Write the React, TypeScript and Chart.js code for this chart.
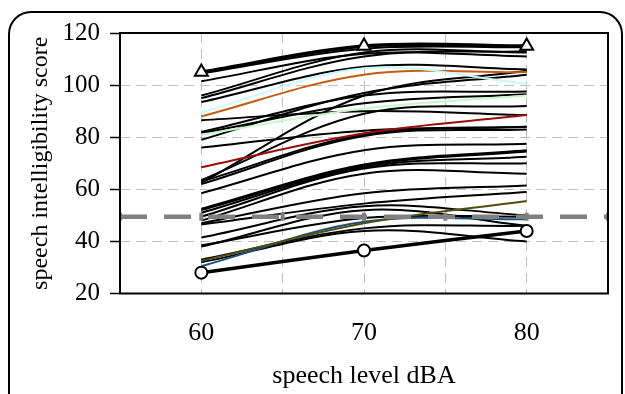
import React, { useEffect, useRef } from 'react';
import { Chart, registerables } from 'chart.js';

Chart.register(...registerables);

// speech levels (dBA) at which each listener was measured
const speechLevels = [60, 70, 80];
const xTickLabels = [60, 70, 80];
const yTickValues = [20, 40, 60, 80, 100, 120];

// reference criterion line
const thresholdLevels = [55, 60, 65, 70, 75, 80, 85];
const thresholdScore = 49.5;

// highlighted listeners
const bestListener = [105, 115, 115];
const worstListener = [28, 36.5, 44];

// coloured listeners
const cyanListener = [89.5, 106.5, 100.5];
const orangeListener = [88, 104, 105];
const greenListener = [81, 91, 96];
const redListener = [68.5, 81.5, 88.5];
const oliveListener = [32.5, 47, 55.5];
const blueListener = [30.5, 47.5, 48.5];

// remaining listeners (black)
const otherListeners = [
  [104.5, 114, 114.5],
  [101.5, 112, 111],
  [96, 112.5, 112.5],
  [95, 111, 113],
  [93.5, 107, 106],
  [86.5, 90, 88.5],
  [82, 96, 97.5],
  [81.5, 93, 96.5],
  [79, 97, 104],
  [76, 82.5, 84],
  [63.5, 89, 92],
  [63, 81, 84],
  [62.5, 96, 105.5],
  [62, 80.5, 83],
  [58.5, 75, 77.5],
  [52.5, 69.5, 75],
  [52, 69, 74.5],
  [51, 68.5, 72.5],
  [49.5, 68, 70],
  [48, 66, 66],
  [47, 58.5, 61.5],
  [46.5, 54.5, 59],
  [41.5, 53.5, 50],
  [38.5, 49, 49.5],
  [38, 52, 46],
  [33, 45, 46],
  [32, 44, 40],
];

const FONT = "'Liberation Serif', 'Times New Roman', serif";

const toPoints = (ys: number[]) => ys.map((y, i) => ({ x: speechLevels[i], y }));

const frame = {
  id: 'frame',
  afterDatasetsDraw(chart: any) {
    const { ctx, chartArea } = chart;
    ctx.save();
    ctx.strokeStyle = '#000';
    ctx.lineWidth = 2;
    ctx.strokeRect(chartArea.left, chartArea.top, chartArea.right - chartArea.left, chartArea.bottom - chartArea.top);
    ctx.restore();
  },
  afterDraw(chart: any) {
    const { ctx } = chart;
    ctx.save();
    ctx.strokeStyle = '#000';
    ctx.lineWidth = 2;
    ctx.beginPath();
    (ctx as any).roundRect(9, 12, 613, 420, 22);
    ctx.stroke();
    ctx.restore();
  },
};

export default function App() {
  const ref = useRef<HTMLCanvasElement>(null);

  useEffect(() => {
    document.body.style.margin = '0';
    const canvas = ref.current!;
    const thin = (ys: number[], color: string) => ({
      data: toPoints(ys),
      borderColor: color,
      borderWidth: 2,
      pointRadius: 0,
      tension: 0.35,
      fill: false,
    });

    const datasets: any[] = [
      {
        data: thresholdLevels.map((x) => ({ x, y: thresholdScore })),
        borderColor: '#808080',
        borderWidth: 4.5,
        borderDash: [27, 17],
        pointStyle: 'line',
        rotation: 90,
        pointRadius: 4,
        pointBorderWidth: 4,
        pointBorderColor: '#808080',
        tension: 0,
        fill: false,
      },
      {
        data: toPoints(bestListener),
        borderColor: '#000',
        borderWidth: 3.5,
        pointStyle: 'triangle',
        pointRadius: 7.5,
        pointBackgroundColor: '#fff',
        pointBorderColor: '#000',
        pointBorderWidth: 2,
        tension: 0.35,
      },
      {
        data: toPoints(worstListener),
        borderColor: '#000',
        borderWidth: 3.5,
        pointStyle: 'circle',
        pointRadius: 6,
        pointBackgroundColor: '#fff',
        pointBorderColor: '#000',
        pointBorderWidth: 2,
        tension: 0.35,
      },
      thin(cyanListener, '#c6fbfb'),
      thin(orangeListener, '#c55a11'),
      thin(greenListener, '#c9f7c9'),
      thin(redListener, '#9b0d0d'),
      thin(oliveListener, '#4f4f10'),
      thin(blueListener, '#1f4e79'),
      ...otherListeners.map((ys) => thin(ys, '#000')),
    ];

    const chart = new Chart(canvas, {
      type: 'line',
      data: { datasets },
      plugins: [frame],
      options: {
        animation: false,
        responsive: false,
        devicePixelRatio: 1,
        layout: { padding: { top: 33, right: 17, left: 0, bottom: 0 } },
        plugins: { legend: { display: false }, tooltip: { enabled: false } },
        scales: {
          x: {
            type: 'linear',
            min: 55,
            max: 85,
            afterFit: (s: any) => { s.height = 100.5; s.paddingLeft = 0; s.paddingRight = 0; },
            ticks: {
              stepSize: 5,
              autoSkip: false,
              maxRotation: 0,
              padding: 24,
              color: '#000',
              font: { family: FONT, size: 26 },
              callback: (v: any) => (xTickLabels.includes(Number(v)) ? String(v) : ''),
            },
            grid: { color: '#c0c0c0', lineWidth: 1, drawTicks: false },
            border: { display: false, dash: [10, 6] },
            title: {
              display: true,
              text: 'speech level dBA',
              color: '#000',
              font: { family: FONT, size: 26 },
              padding: { top: 0, bottom: 2 },
            },
          },
          y: {
            type: 'linear',
            min: 20,
            max: 120,
            afterFit: (s: any) => { s.width = 120; },
            afterBuildTicks: (s: any) => { s.ticks = yTickValues.map((value) => ({ value })); },
            ticks: {
              padding: 10,
              color: '#000',
              font: { family: FONT, size: 25 },
            },
            grid: {
              color: '#c0c0c0',
              lineWidth: 1,
              drawTicks: true,
              tickLength: 10,
              tickColor: '#000',
              tickWidth: 1.5,
              tickBorderDash: [],
            },
            border: { display: false, dash: [10, 6] },
            title: {
              display: true,
              text: 'speech intelligibility score',
              color: '#000',
              font: { family: FONT, size: 24 },
              padding: { top: 26, bottom: 0 },
            },
          },
        },
      },
    } as any);
    return () => chart.destroy();
  }, []);

  return (
    <div style={{ position: 'fixed', left: 0, top: 0, width: 625, height: 394, background: '#fff' }}>
      <canvas ref={ref} width={625} height={394} style={{ display: 'block' }} />
    </div>
  );
}
